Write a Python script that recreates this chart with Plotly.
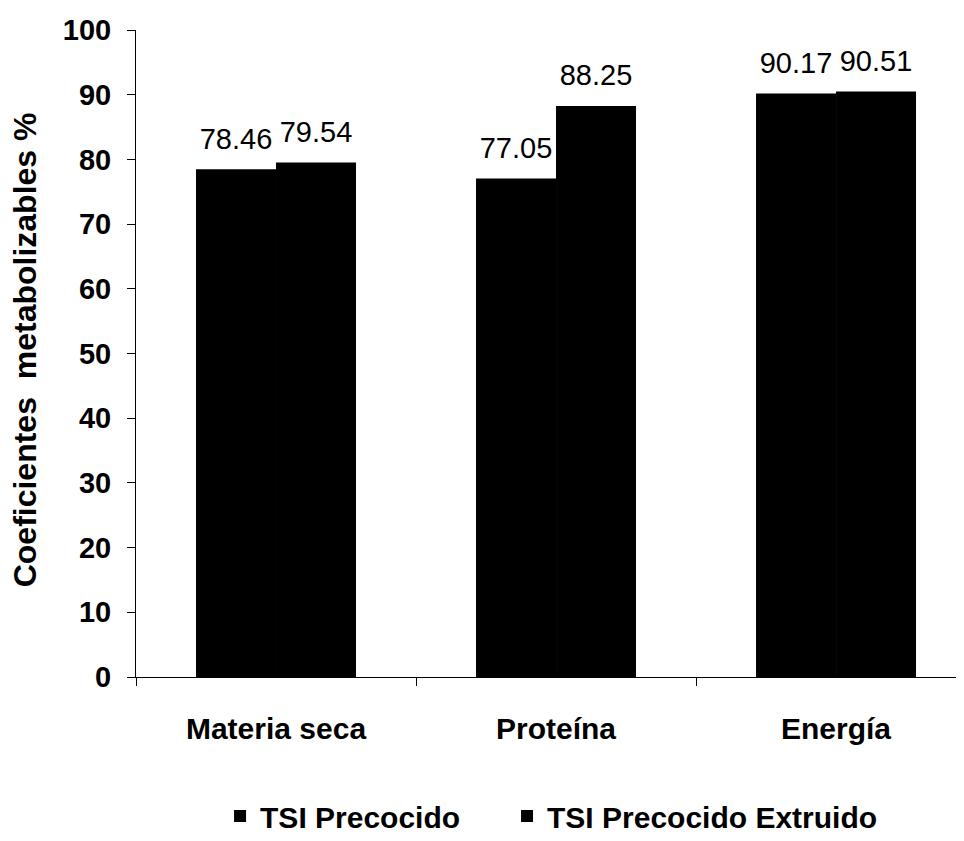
import plotly.graph_objects as go

categories = ["Materia seca", "Proteína", "Energía"]
tsi_precocido = [78.46, 77.05, 90.17]
tsi_extruido = [79.54, 88.25, 90.51]
series_names = ["TSI Precocido", "TSI Precocido Extruido"]
y_ticks = [0, 10, 20, 30, 40, 50, 60, 70, 80, 90, 100]
y_title = "Coeficientes  metabolizables %"

FONT = "Liberation Sans, Arial, sans-serif"

fig = go.Figure()
legend_refs = ["legend", "legend2"]
for i, (name, vals) in enumerate(zip(series_names, [tsi_precocido, tsi_extruido])):
    fig.add_trace(go.Bar(
        x=categories, y=vals, name=name,
        marker=dict(color="black", line=dict(width=0)),
        offsetgroup=str(i), alignmentgroup="g",
        legend=legend_refs[i],
    ))
for i, vals in enumerate([tsi_precocido, tsi_extruido]):
    fig.add_trace(go.Scatter(
        x=categories, y=vals, mode="markers+text",
        marker=dict(size=20, opacity=0),
        text=[f"{v:.2f}" for v in vals], textposition="top center",
        textfont=dict(family=FONT, size=29, color="black"),
        offsetgroup=str(i), alignmentgroup="g",
        showlegend=False, hoverinfo="skip", cliponaxis=False,
    ))

legend_style = dict(orientation="h", xref="container", xanchor="left",
                    y=0.03, yref="container", yanchor="middle",
                    font=dict(family=FONT, size=30, color="black", weight="bold"),
                    itemwidth=30, bgcolor="rgba(0,0,0,0)")

fig.update_layout(
    width=956, height=833,
    paper_bgcolor="white", plot_bgcolor="white",
    margin=dict(l=128, r=0, t=22, b=164),
    barmode="group", bargap=0.4286, bargroupgap=0,
    scattermode="group", scattergap=0.4286,
    font=dict(family=FONT, color="black"),
    showlegend=True,
    legend=dict(x=0.2218, **legend_style),
    legend2=dict(x=0.522, **legend_style),
    annotations=[dict(
        text=y_title, textangle=-90, xref="paper", yref="paper",
        x=-0.134, y=0.505, xanchor="center", yanchor="middle", showarrow=False,
        font=dict(family=FONT, size=32, color="black", weight="bold"),
    )],
)
fig.update_xaxes(
    range=[-0.5, 2.457], showline=True, linecolor="black", linewidth=1,
    ticks="outside", tickson="boundaries", ticklen=8, tickcolor="black",
    tickfont=dict(family=FONT, size=30, color="black", weight="bold"),
    ticklabelstandoff=25,
    showgrid=False, zeroline=False,
)
fig.update_yaxes(
    range=[0, 100], tickvals=y_ticks, showline=True, linecolor="black", linewidth=1,
    ticks="outside", ticklen=8, tickcolor="black",
    tickfont=dict(family=FONT, size=29, color="black", weight="bold"),
    ticklabelstandoff=10,
    showgrid=False, zeroline=False,
)

fig.write_html("out.html")
